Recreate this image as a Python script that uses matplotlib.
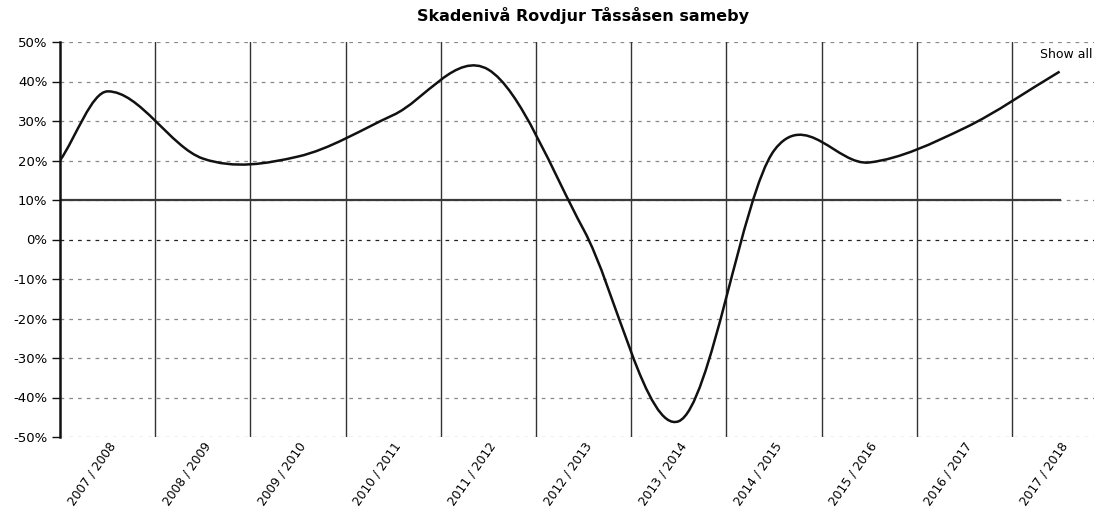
import numpy as np
import matplotlib
matplotlib.use("Agg")
import matplotlib.pyplot as plt
from matplotlib.path import Path
from matplotlib.patches import PathPatch

# season labels (one band each on the x axis)
seasons = ["2007 / 2008", "2008 / 2009", "2009 / 2010", "2010 / 2011",
           "2011 / 2012", "2012 / 2013", "2013 / 2014", "2014 / 2015",
           "2015 / 2016", "2016 / 2017", "2017 / 2018"]
# damage level, percent, one per season
skadeniva = [37.5, 20.5, 21.0, 31.5, 43.0, 2.5, -46.0, 22.5, 19.5, 28.2, 42.5]
# value where the curve meets the y axis (left edge of first band)
start_value = 20.0
# reference level, percent
gransvarde = 10.0

yticks = [50, 40, 30, 20, 10, 0, -10, -20, -30, -40, -50]


def smooth_path(xs, ys):
    # cubic hermite through the points, written as bezier segments
    xs = np.asarray(xs, float)
    ys = np.asarray(ys, float)
    n = len(xs)
    m = np.zeros(n)
    for i in range(n):
        if i == 0:
            m[i] = (ys[1] - ys[0]) / (xs[1] - xs[0])
        elif i == n - 1:
            m[i] = (ys[-1] - ys[-2]) / (xs[-1] - xs[-2])
        else:
            m[i] = (ys[i + 1] - ys[i - 1]) / (xs[i + 1] - xs[i - 1])
    verts = [(xs[0], ys[0])]
    codes = [Path.MOVETO]
    for i in range(n - 1):
        dx = xs[i + 1] - xs[i]
        verts += [(xs[i] + dx / 3, ys[i] + m[i] * dx / 3),
                  (xs[i + 1] - dx / 3, ys[i + 1] - m[i + 1] * dx / 3),
                  (xs[i + 1], ys[i + 1])]
        codes += [Path.CURVE4] * 3
    return Path(verts, codes)


fig = plt.figure(figsize=(10.94, 5.15), dpi=100)
ax = fig.add_axes([60 / 1094, 78 / 515, 1 - 60 / 1094, 395 / 515])

centers = np.arange(len(seasons)) + 0.5
xs = np.concatenate([[0.0], centers])
ys = np.concatenate([[start_value], skadeniva])

# grid
for v in yticks:
    col = "#222222" if v == 0 else "#8a8a8a"
    ax.axhline(v, color=col, lw=0.9, ls=(0, (3, 4)), zorder=1)
for b in range(1, len(seasons)):
    ax.axvline(b, color="#333333", lw=1.0, zorder=1)

# reference line
ax.plot(xs, [gransvarde] * len(xs), color="#3a3a3a", lw=1.6, zorder=2)

# curve
ax.add_patch(PathPatch(smooth_path(xs, ys), fill=False, edgecolor="#111111",
                       lw=1.8, zorder=3))

ax.set_xlim(0, 1034 / 95.2)
ax.set_ylim(-50, 50)
ax.set_yticks(yticks)
ax.set_yticklabels([f"{v}%" for v in yticks], fontsize=9.5)
ax.set_xticks(centers)
ax.set_xticklabels(seasons, rotation=55, ha="right", va="top",
                   rotation_mode="anchor", fontsize=8.8)
ax.tick_params(axis="x", length=0, pad=2)
ax.tick_params(axis="y", length=6, width=1, pad=3, color="#111111")
for s in ["top", "right", "bottom"]:
    ax.spines[s].set_visible(False)
ax.spines["left"].set_linewidth(1.8)
ax.spines["left"].set_color("#111111")

fig.text(583 / 1094, 1 - 15 / 515, "Skadenivå Rovdjur Tåssåsen sameby",
         ha="center", va="center", fontsize=11.5, fontweight="bold")
fig.text(1093 / 1094, 1 - 55 / 515, "Show all", ha="right", va="center",
         fontsize=9)

fig.savefig("out.png", dpi=100)
